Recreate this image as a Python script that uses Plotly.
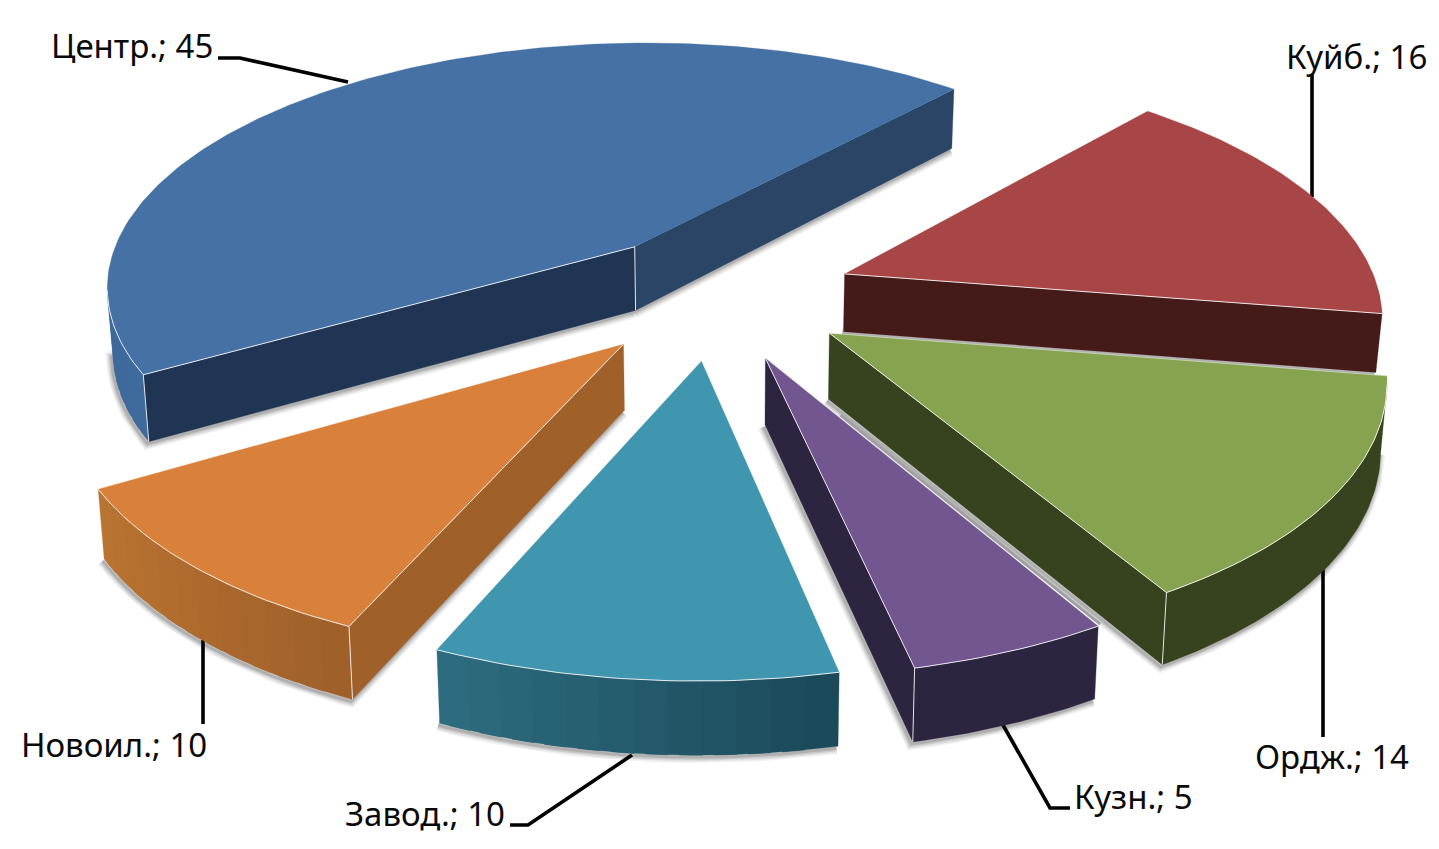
import math
import plotly.graph_objects as go

# ---- data -----------------------------------------------------------
CATEGORIES = ["Куйб.", "Ордж.", "Кузн.", "Завод.", "Новоил.", "Центр."]
VALUES = [16, 14, 5, 10, 10, 45]

# ---- style / layout -------------------------------------------------
START_DEG = 41.6            # clockwise from 12 o'clock
OFFSET_X = [0.232, 0.196, 0.078, -0.037, -0.1786, -0.168]
OFFSET_Y = [0.106, -0.130, -0.225, -0.236, -0.172, 0.2200]
DEPTH = [0.90, 1.0, 1.0, 1.0, 1.0, 1.0]
TOP = ["#A84546", "#88A34F", "#715690", "#4096AE", "#D9803B", "#4571A5"]
WALL_IN = ["#451B1A", "#37421E", "#2D2440", "#1B4A5A", "#A0602A", "#1F3553"]
WALL_OUT = ["#451B1A", "#37421E", "#2D2440", "#2F6C7E", "#A0602A", "#2B4567"]
ARC_A = ["#451B1A", "#37421E", "#2D2440", "#1B4A5A", "#A0602A", "#3F6A9C"]
ARC_B = ["#451B1A", "#37421E", "#2D2440", "#2F6F82", "#BC7632", "#36598A"]
HL_IN = [False, True, True, False, True, True]
HL_OUT = [True, True, True, False, False, False]
EDGE_SHADOW_FROM = [None, None, 0.22, None, None, None]
DRAW_ORDER = [5, 0, 4, 1, 3, 2]
CX, CY, A, B, K, H, KH, CONVERGE = 722.0, 300.0, 537.0, 250.0, 0.153, 65.0, 0.10, 0.0095

LABEL_POS = {
    "Центр.": (215, 45, "right"), "Куйб.": (1429, 56, "right"),
    "Ордж.": (1411, 756, "right"), "Кузн.": (1195, 796, "right"),
    "Завод.": (507, 813, "right"), "Новоил.": (209, 744, "right"),
}
LEADERS = [
    "M218,58 L240,58 L348,82", "M1312,75 L1312,197", "M1323,567 L1323,737",
    "M1003,725 L1050,808 L1070,808", "M632,755 L528,825 L510,825",
    "M203,640 L203,724",
]


def project(X, Y, z=0.0):
    w = 1 + K * Y
    x = A * X / w * (1 - CONVERGE * (1 if z else 0))
    return CX + x, CY - B * Y / w + z * H / (1 + KH * Y)


def mix(c1, c2, t):
    a = [int(c1[i:i + 2], 16) for i in (1, 3, 5)]
    b = [int(c2[i:i + 2], 16) for i in (1, 3, 5)]
    return "rgb(%d,%d,%d)" % tuple(round(p + (q - p) * t) for p, q in zip(a, b))


fig = go.Figure()


def poly(pts, color):
    fig.add_trace(go.Scatter(
        x=[p[0] for p in pts] + [pts[0][0]], y=[p[1] for p in pts] + [pts[0][1]],
        mode="lines", fill="toself", fillcolor=color,
        line=dict(color=color, width=0.3), hoverinfo="skip", showlegend=False))


def path(pts, color, width):
    fig.add_trace(go.Scatter(
        x=[p[0] for p in pts], y=[p[1] for p in pts], mode="lines",
        line=dict(color=color, width=width), hoverinfo="skip", showlegend=False))


total = sum(VALUES)
starts, cum = [], START_DEG
for v in VALUES:
    starts.append(cum)
    cum += v / total * 360

for i in DRAW_ORDER:
    b0 = starts[i]
    b1 = b0 + VALUES[i] / total * 360
    ax, ay = OFFSET_X[i], OFFSET_Y[i]
    n = max(6, int(b1 - b0))
    d = DEPTH[i]
    ground = []
    for j in range(n + 1):
        t = math.radians(b0 + (b1 - b0) * j / n)
        ground.append((ax + math.sin(t), ay + math.cos(t)))
    apex = (ax, ay)
    top_arc = [project(*g) for g in ground]
    bot_arc = [project(*g, d) for g in ground]
    apx_t, apx_b = project(*apex), project(*apex, d)

    in_vis = top_arc[0][0] < apx_t[0]
    out_vis = apx_t[0] < top_arc[-1][0]
    arc_vis = [top_arc[j + 1][0] < top_arc[j][0] for j in range(n)]
    vis_idx = [j for j in range(n) if arc_vis[j]]

    # soft shadow along the lower contour of visible walls
    contour = []
    if in_vis:
        contour += [apx_b, bot_arc[0]]
    if vis_idx:
        contour += bot_arc[vis_idx[0]:vis_idx[-1] + 2]
    if out_vis:
        contour += [bot_arc[-1], apx_b]
    if contour:
        sh = [(p[0] - 1.5, p[1] + 2) for p in contour]
        for w, op in ((12, .05), (9, .07), (6, .09), (3, .13)):
            path(sh, "rgba(0,0,0,%s)" % op, w)

    # walls
    if vis_idx:
        if ARC_A[i] == ARC_B[i]:
            lo, hi = vis_idx[0], vis_idx[-1] + 1
            poly(top_arc[lo:hi + 1] + bot_arc[lo:hi + 1][::-1], ARC_A[i])
        else:
            step = 3
            for j in range(vis_idx[0], vis_idx[-1] + 1, step):
                e = min(j + step + 2, vis_idx[-1] + 1)
                poly(top_arc[j:e + 1] + bot_arc[j:e + 1][::-1],
                     mix(ARC_A[i], ARC_B[i], j / n))
    if in_vis:
        poly([apx_t, top_arc[0], bot_arc[0], apx_b], WALL_IN[i])
    if out_vis:
        poly([top_arc[-1], apx_t, apx_b, bot_arc[-1]], WALL_OUT[i])

    if EDGE_SHADOW_FROM[i] is not None:
        f = EDGE_SHADOW_FROM[i]
        sx = apx_t[0] + (top_arc[0][0] - apx_t[0]) * f
        sy = apx_t[1] + (top_arc[0][1] - apx_t[1]) * f
        path([(sx + 2, sy - 2), (top_arc[0][0] + 2, top_arc[0][1] - 2)], "#a0a0a0", 3)

    # top face
    poly([apx_t] + top_arc, TOP[i])

    # highlights
    hl = "rgba(255,255,255,0.85)"
    if HL_IN[i] and in_vis:
        path([apx_t, top_arc[0]], hl, 1)
    if vis_idx:
        path(top_arc[vis_idx[0]:vis_idx[-1] + 2], hl, 1)
    if HL_OUT[i]:
        path([top_arc[-1], apx_t], hl, 1)
    if i == 1:
        path([apx_t, top_arc[0]], "rgba(255,255,255,0.45)", 1)
    if in_vis and arc_vis[0]:
        path([top_arc[0], bot_arc[0]], hl, 1)
    if arc_vis[-1] and out_vis:
        path([top_arc[-1], bot_arc[-1]], hl, 1)
    if out_vis and in_vis:
        path([apx_t, apx_b], hl, 1)

annotations = []
for name, val in zip(CATEGORIES, VALUES):
    x, y, anchor = LABEL_POS[name]
    annotations.append(dict(
        x=x, y=y, xref="x", yref="y", text=f"{name}; {val}", showarrow=False,
        xanchor=anchor, yanchor="middle",
        font=dict(family="Noto Sans", size=33, color="#0a0a0a")))

shapes = [dict(type="path", path=p, xref="x", yref="y", layer="below",
               line=dict(color="black", width=3.6)) for p in LEADERS]

fig.update_layout(
    width=1439, height=849, margin=dict(l=0, r=0, t=0, b=0),
    paper_bgcolor="white", plot_bgcolor="white", showlegend=False,
    xaxis=dict(range=[0, 1439], visible=False, fixedrange=True),
    yaxis=dict(range=[849, 0], visible=False, fixedrange=True),
    annotations=annotations, shapes=shapes)

fig.write_html("out.html", config={"displayModeBar": False},
               post_script="document.body.style.margin='0';document.body.style.overflow='hidden';")
